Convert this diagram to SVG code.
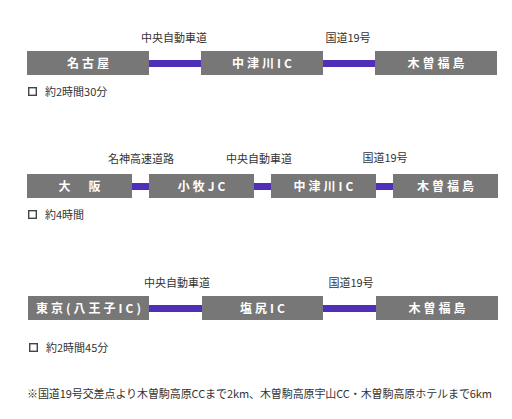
<svg xmlns="http://www.w3.org/2000/svg" width="512" height="419" viewBox="0 0 512 419">
<style>
.box{fill:#777777}
.bt{fill:#ffffff;font-family:"Noto Sans CJK JP","Noto Sans",sans-serif;font-size:12px;font-weight:bold;letter-spacing:3px;text-anchor:middle}
.road{fill:#4f2fb8}
.lbl{fill:#333333;font-family:"Noto Sans CJK JP","Noto Sans",sans-serif;font-size:11px;text-anchor:middle}
.note{fill:#333333;font-family:"Noto Sans CJK JP","Noto Sans",sans-serif;font-size:11px}
.chk{fill:none;stroke:#444444;stroke-width:1.4}
</style>
<rect width="512" height="419" fill="#ffffff"/>

<g id="connectors">
  <rect class="road" x="149" y="60" width="52" height="7"/>
  <rect class="road" x="323" y="60" width="52" height="7"/>
  <rect class="road" x="132" y="183" width="17" height="7"/>
  <rect class="road" x="254" y="183" width="17" height="7"/>
  <rect class="road" x="376" y="183" width="17" height="7"/>
  <rect class="road" x="149" y="305" width="53" height="7"/>
  <rect class="road" x="323" y="305" width="53" height="7"/>
  <text class="lbl" x="174" y="42">中央自動車道</text>
  <text class="lbl" x="348" y="42">国道19号</text>
  <text class="lbl" x="141" y="163">名神高速道路</text>
  <text class="lbl" x="259" y="163">中央自動車道</text>
  <text class="lbl" x="385" y="162">国道19号</text>
  <text class="lbl" x="177" y="287">中央自動車道</text>
  <text class="lbl" x="351" y="287">国道19号</text>
</g>

<g id="r1-nagoya"><rect class="box" x="27" y="51" width="122" height="24"/><text class="bt" x="89.5" y="67.5">名古屋</text></g>
<g id="r1-nakatsugawa"><rect class="box" x="201" y="51" width="122" height="24"/><text class="bt" x="263.5" y="67.5">中津川IC</text></g>
<g id="r1-kisofukushima"><rect class="box" x="375" y="51" width="122" height="24"/><text class="bt" x="437.5" y="67.5">木曽福島</text></g>
<g id="r1-time"><rect class="chk" x="28.7" y="87.7" width="7.6" height="7.6"/><text class="note" x="45" y="96">約2時間30分</text></g>

<g id="r2-osaka"><rect class="box" x="27" y="174" width="105" height="24"/><text class="bt" x="81" y="190.5">大　阪</text></g>
<g id="r2-komaki"><rect class="box" x="149" y="174" width="105" height="24"/><text class="bt" x="203" y="190.5">小牧JC</text></g>
<g id="r2-nakatsugawa"><rect class="box" x="271" y="174" width="105" height="24"/><text class="bt" x="325" y="190.5">中津川IC</text></g>
<g id="r2-kisofukushima"><rect class="box" x="393" y="174" width="105" height="24"/><text class="bt" x="447" y="190.5">木曽福島</text></g>
<g id="r2-time"><rect class="chk" x="28.7" y="210.7" width="7.6" height="7.6"/><text class="note" x="45" y="219">約4時間</text></g>

<g id="r3-tokyo"><rect class="box" x="28" y="296" width="121" height="24"/><text class="bt" x="90" y="312.5">東京(八王子IC)</text></g>
<g id="r3-shiojiri"><rect class="box" x="202" y="296" width="121" height="24"/><text class="bt" x="264" y="312.5">塩尻IC</text></g>
<g id="r3-kisofukushima"><rect class="box" x="376" y="296" width="122" height="24"/><text class="bt" x="438.5" y="312.5">木曽福島</text></g>
<g id="r3-time"><rect class="chk" x="29.7" y="343.7" width="7.6" height="7.6"/><text class="note" x="46" y="352">約2時間45分</text></g>

<g id="footnote"><text class="note" x="27" y="398" textLength="465" lengthAdjust="spacing">※国道19号交差点より木曽駒高原CCまで2km、木曽駒高原宇山CC・木曽駒高原ホテルまで6km</text></g>
</svg>
